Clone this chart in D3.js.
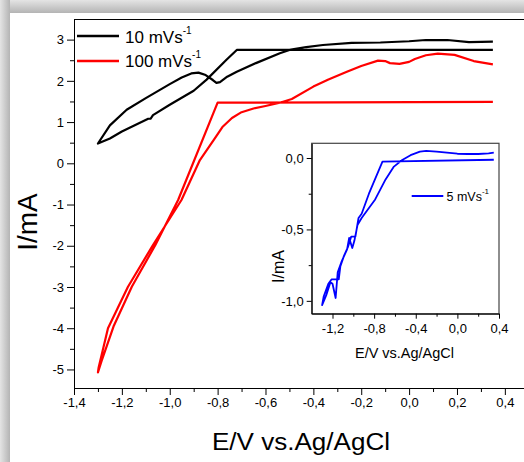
<!DOCTYPE html>
<html>
<head>
<meta charset="utf-8">
<script src="https://cdn.jsdelivr.net/npm/d3@7"></script>
<style>
  body { margin: 0; background: #fff; }
  svg { display: block; font-family: "Liberation Sans", Arial, sans-serif; }
</style>
</head>
<body>
<svg width="524" height="462"></svg>
<script>
// 10 mV/s cycle (E in V, I in mA)
var e10 = [0.35, -0.72, -0.763, -0.846, -0.9, -1.0, -1.07, -1.08, -1.09, -1.2, -1.25, -1.3,
  -1.25, -1.18, -1.1, -1.0, -0.95, -0.91, -0.88, -0.85, -0.82, -0.805, -0.79, -0.76, -0.72, -0.64, -0.54, -0.5, -0.43, -0.36, -0.24, -0.12, 0.0, 0.07, 0.16, 0.25, 0.35];
var i10 = [2.75, 2.75, 2.51, 2.03, 1.76, 1.42, 1.17, 1.08, 1.08, 0.77, 0.6, 0.48,
  0.92, 1.3, 1.58, 1.92, 2.08, 2.18, 2.2, 2.14, 2.02, 1.95, 1.97, 2.1, 2.22, 2.43, 2.67, 2.75, 2.82, 2.87, 2.92, 2.93, 2.96, 2.99, 2.99, 2.94, 2.95];

// 100 mV/s cycle
var e100 = [0.35, -0.8, -0.965, -1.06, -1.158, -1.235, -1.285, -1.3,
  -1.297, -1.258, -1.175, -1.072, -0.951, -0.874, -0.816, -0.78, -0.74, -0.7, -0.65, -0.6, -0.54, -0.49, -0.4, -0.337, -0.26, -0.2, -0.13, -0.1, -0.08, -0.04, 0.0, 0.024, 0.07, 0.12, 0.19, 0.27, 0.35];
var i100 = [1.49, 1.47, -0.89, -1.98, -2.99, -3.96, -4.8, -5.07,
  -4.95, -4.0, -3.0, -2.0, -0.89, 0.08, 0.57, 0.88, 1.1, 1.24, 1.33, 1.39, 1.47, 1.56, 1.86, 2.03, 2.22, 2.36, 2.49, 2.48, 2.43, 2.41, 2.46, 2.53, 2.62, 2.66, 2.63, 2.48, 2.4];

// 5 mV/s cycle (inset)
var e5 = [0.35, -0.72, -0.85, -0.92, -0.95, -0.98, -1.02, -1.05, -1.09, -1.125, -1.14, -1.21, -1.24, -1.285, -1.3,
  -1.26, -1.22, -1.2, -1.17, -1.15, -1.11, -1.06, -1.04, -1.01, -0.99, -0.96, -0.92, -0.85, -0.79, -0.69, -0.61, -0.53, -0.45, -0.36, -0.3, -0.2, -0.1, 0.0, 0.1, 0.2, 0.3, 0.35];
var i5 = [-0.012, -0.026, -0.25, -0.39, -0.42, -0.55, -0.55, -0.62, -0.685, -0.76, -0.85, -0.85, -0.88, -0.97, -1.03,
  -0.96, -0.87, -0.88, -0.98, -0.8, -0.72, -0.64, -0.56, -0.63, -0.58, -0.47, -0.42, -0.35, -0.29, -0.15, -0.06, -0.014, 0.02, 0.045, 0.05, 0.045, 0.037, 0.03, 0.028, 0.028, 0.033, 0.038];

var xTicks = [-1.4, -1.2, -1.0, -0.8, -0.6, -0.4, -0.2, 0.0, 0.2, 0.4];
var yTicks = [3, 2, 1, 0, -1, -2, -3, -4, -5];
var insetXTicks = [-1.2, -0.8, -0.4, 0.0, 0.4];
var insetYTicks = [0.0, -0.5, -1.0];

var svg = d3.select("svg");
var fmt = function (d) { return d.toFixed(1).replace(".", ","); };

// shadow bands round the panel
var defs = svg.append("defs");
var gt = defs.append("linearGradient").attr("id", "shTop").attr("x1", 0).attr("y1", 0).attr("x2", 0).attr("y2", 1);
gt.append("stop").attr("offset", "0%").attr("stop-color", "#e4e4e4");
gt.append("stop").attr("offset", "100%").attr("stop-color", "#b4b4b4");
var gl = defs.append("linearGradient").attr("id", "shLeft").attr("x1", 0).attr("y1", 0).attr("x2", 1).attr("y2", 0);
gl.append("stop").attr("offset", "0%").attr("stop-color", "#e4e4e4");
gl.append("stop").attr("offset", "100%").attr("stop-color", "#b4b4b4");
svg.append("rect").attr("x", 0).attr("y", 0).attr("width", 524).attr("height", 13).attr("fill", "url(#shTop)");
svg.append("rect").attr("x", 0).attr("y", 0).attr("width", 10).attr("height", 462).attr("fill", "url(#shLeft)");
svg.append("rect").attr("x", 10).attr("y", 13).attr("width", 514).attr("height", 449).attr("fill", "#fff");

// main plot
var x = d3.scaleLinear().domain([-1.4, 0.48]).range([74, 524]);
var y = d3.scaleLinear().domain([-5.45, 3.5]).range([388, 19]);

var xAxis = svg.append("g").attr("transform", "translate(0,388)")
  .call(d3.axisBottom(x).tickValues(xTicks).tickFormat(fmt).tickSize(7).tickSizeOuter(0));
svg.append("g").attr("transform", "translate(0,388)")
  .call(d3.axisBottom(x).tickValues([-1.3, -1.1, -0.9, -0.7, -0.5, -0.3, -0.1, 0.1, 0.3]).tickFormat("").tickSize(4).tickSizeOuter(0))
  .select(".domain").remove();
var yAxis = svg.append("g").attr("transform", "translate(74,0)")
  .call(d3.axisLeft(y).tickValues(yTicks).tickFormat(function (d) { return String(d); }).tickSize(7).tickSizeOuter(0));
svg.append("g").attr("transform", "translate(74,0)")
  .call(d3.axisLeft(y).tickValues([2.5, 1.5, 0.5, -0.5, -1.5, -2.5, -3.5, -4.5]).tickFormat("").tickSize(4).tickSizeOuter(0))
  .select(".domain").remove();
svg.append("line").attr("x1", 74).attr("x2", 524).attr("y1", 19.5).attr("y2", 19.5).attr("stroke", "#000");

[xAxis, yAxis].forEach(function (a) {
  a.selectAll(".tick text").attr("font-size", "13px").attr("fill", "#000")
    .attr("font-family", "Liberation Sans, Arial, sans-serif");
});

var line = d3.line().x(function (d) { return x(d[0]); }).y(function (d) { return y(d[1]); });
svg.append("path").datum(d3.zip(e100, i100)).attr("d", line)
  .attr("fill", "none").attr("stroke", "#ff0000").attr("stroke-width", 2.2).attr("stroke-linejoin", "round");
svg.append("path").datum(d3.zip(e10, i10)).attr("d", line)
  .attr("fill", "none").attr("stroke", "#000").attr("stroke-width", 2.2).attr("stroke-linejoin", "round");

// main legend
var legend = [["10 mVs", "#000", 36, 43], ["100 mVs", "#ff0000", 61, 67]];
legend.forEach(function (l) {
  svg.append("line").attr("x1", 77).attr("x2", 119).attr("y1", l[2]).attr("y2", l[2])
    .attr("stroke", l[1]).attr("stroke-width", 2.6);
  var t = svg.append("text").attr("x", 125).attr("y", l[3]).attr("font-size", "17px").text(l[0]);
  t.append("tspan").attr("font-size", "10px").attr("dy", -9).text("-1");
});

// axis titles
svg.append("text").attr("x", 301).attr("y", 450).attr("text-anchor", "middle")
  .attr("font-size", "23px").attr("textLength", 178).attr("lengthAdjust", "spacingAndGlyphs")
  .text("E/V vs.Ag/AgCl");
svg.append("text").attr("transform", "translate(37,222) rotate(-90)").attr("text-anchor", "middle")
  .attr("font-size", "28px").text("I/mA");

// inset
var ix = d3.scaleLinear().domain([-1.4, 0.4]).range([311.7, 499]);
var iy = d3.scaleLinear().domain([-1.09, 0.103]).range([313.7, 143.3]);
var inset = svg.append("g");
inset.append("rect").attr("x", 311.7).attr("y", 143.3).attr("width", 499 - 311.7).attr("height", 313.7 - 143.3)
  .attr("fill", "#fff").attr("stroke", "#444").attr("stroke-width", 1.2);
var ixa = inset.append("g").attr("transform", "translate(0,313.7)")
  .call(d3.axisBottom(ix).tickValues(insetXTicks).tickFormat(fmt).tickSize(5).tickSizeOuter(0));
inset.append("g").attr("transform", "translate(0,313.7)")
  .call(d3.axisBottom(ix).tickValues([-1.0, -0.6, -0.2, 0.2]).tickFormat("").tickSize(3).tickSizeOuter(0))
  .select(".domain").remove();
var iya = inset.append("g").attr("transform", "translate(311.7,0)")
  .call(d3.axisLeft(iy).tickValues(insetYTicks).tickFormat(fmt).tickSize(5).tickSizeOuter(0));
inset.append("g").attr("transform", "translate(311.7,0)")
  .call(d3.axisLeft(iy).tickValues([-0.25, -0.75]).tickFormat("").tickSize(3).tickSizeOuter(0))
  .select(".domain").remove();
[ixa, iya].forEach(function (a) {
  a.selectAll(".tick text").attr("font-size", "13px").attr("fill", "#000")
    .attr("font-family", "Liberation Sans, Arial, sans-serif");
});
ixa.selectAll(".tick text").attr("y", 10);

var iline = d3.line().x(function (d) { return ix(d[0]); }).y(function (d) { return iy(d[1]); });
inset.append("path").datum(d3.zip(e5, i5)).attr("d", iline)
  .attr("fill", "none").attr("stroke", "#0000ff").attr("stroke-width", 1.8).attr("stroke-linejoin", "round");

inset.append("line").attr("x1", 411.7).attr("x2", 443.3).attr("y1", 196).attr("y2", 196)
  .attr("stroke", "#0000ff").attr("stroke-width", 2);
var it = inset.append("text").attr("x", 446.5).attr("y", 201).attr("font-size", "12.5px").text("5 mVs");
it.append("tspan").attr("font-size", "8px").attr("dy", -7).text("-1");

inset.append("text").attr("x", 404.5).attr("y", 358).attr("text-anchor", "middle")
  .attr("font-size", "15px").attr("textLength", 99).attr("lengthAdjust", "spacingAndGlyphs")
  .text("E/V vs.Ag/AgCl");
inset.append("text").attr("transform", "translate(284,266.5) rotate(-90)").attr("text-anchor", "middle")
  .attr("font-size", "16px").text("I/mA");
</script>
</body>
</html>
